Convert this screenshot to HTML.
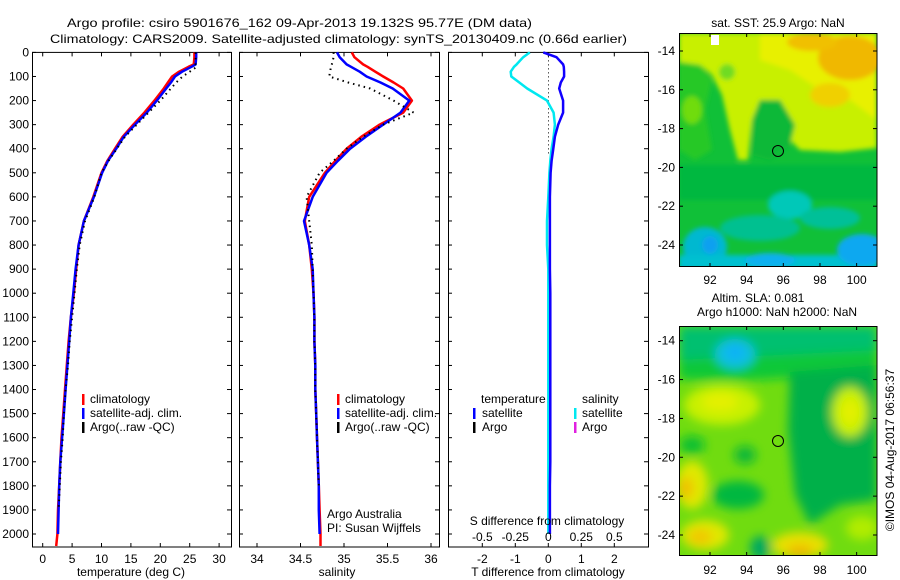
<!DOCTYPE html>
<html><head><meta charset="utf-8"><style>
html,body{margin:0;padding:0;background:#fff;}
svg{display:block;font-family:"Liberation Sans",Arial,sans-serif;}
text{font-size:12px;fill:#000;}
</style></head><body>
<svg id="fig" width="900" height="580" viewBox="0 0 900 580" xmlns="http://www.w3.org/2000/svg">
<defs>
<filter id="blur1" x="-20%" y="-20%" width="140%" height="140%"><feGaussianBlur stdDeviation="2.5"/></filter>
<filter id="blur2" x="-20%" y="-20%" width="140%" height="140%"><feGaussianBlur stdDeviation="5"/></filter>
<clipPath id="clipM1"><rect x="679" y="33" width="198" height="234"/></clipPath>
<clipPath id="clipM2"><rect x="679" y="326" width="198" height="230"/></clipPath>
</defs>
<text x="67" y="27" textLength="465" lengthAdjust="spacingAndGlyphs" font-size="13">Argo profile: csiro 5901676_162 09-Apr-2013 19.132S 95.77E (DM data)</text>
<text x="50" y="43" textLength="577" lengthAdjust="spacingAndGlyphs" font-size="13">Climatology: CARS2009. Satellite-adjusted climatology: synTS_20130409.nc (0.66d earlier)</text>

<g id="map1">
 <g clip-path="url(#clipM1)">
  <rect x="679" y="33" width="198" height="234" fill="#10c038"/>
  <g filter="url(#blur1)">
   <polygon points="679,33 877,33 877,148 840,152 800,150 790,140 795,125 780,100 760,100 752,120 748,160 738,160 730,130 722,95 712,75 700,65 679,62" fill="#c8f000"/>
   <polygon points="760,33 877,33 877,120 850,100 820,90 790,70 760,60" fill="#e8f000"/>
   <ellipse cx="850" cy="58" rx="32" ry="22" fill="#f0b800"/>
   <ellipse cx="812" cy="42" rx="25" ry="9" fill="#f0c000"/>
   <ellipse cx="830" cy="95" rx="20" ry="12" fill="#f0d000"/>
   <polygon points="679,62 700,65 712,80 705,110 712,150 695,160 679,150" fill="#28c828"/>
   <ellipse cx="692" cy="110" rx="10" ry="14" fill="#70dc10"/>
   <polygon points="760,100 780,100 795,125 790,145 770,160 752,155 752,120" fill="#10b838"/>
   <ellipse cx="727" cy="72" rx="8" ry="8" fill="#70dc20"/>
   <rect x="679" y="165" width="198" height="35" fill="#00b840"/>
   <ellipse cx="790" cy="205" rx="22" ry="14" fill="#00c8b8"/>
   <ellipse cx="760" cy="228" rx="40" ry="13" fill="#00c090"/>
   <ellipse cx="830" cy="218" rx="30" ry="11" fill="#00c098"/>
   <ellipse cx="705" cy="247" rx="22" ry="20" fill="#00b8d0"/>
   <ellipse cx="710" cy="245" rx="8" ry="9" fill="#10a0f0"/>
   <rect x="679" y="255" width="198" height="15" fill="#00c0d0"/>
   <ellipse cx="862" cy="250" rx="25" ry="16" fill="#10a8f0"/>
   <ellipse cx="770" cy="260" rx="25" ry="7" fill="#10b0f0"/>
  </g>
  <rect x="711" y="35" width="8" height="10" fill="#fff"/>
 </g>
 <rect x="679.5" y="33.5" width="197.5" height="233" fill="none" stroke="#000" stroke-width="1"/>
 <circle cx="778" cy="151" r="5.5" fill="none" stroke="#000" stroke-width="1"/>
 <text x="778" y="27" text-anchor="middle">sat. SST: 25.9 Argo: NaN</text>
 <g id="map1ticks"></g>
</g>

<g id="map2">
 <g clip-path="url(#clipM2)">
  <rect x="679" y="326" width="198" height="230" fill="#70dc10"/>
  <g filter="url(#blur2)">
   <rect x="679" y="326" width="198" height="48" fill="#00c070"/>
   <polygon points="679,360 877,350 877,372 760,380 679,380" fill="#10c838"/>
   <ellipse cx="735" cy="354" rx="20" ry="15" fill="#10c0e0"/>
   <ellipse cx="735" cy="352" rx="9" ry="7" fill="#10b0f8"/>
   <polygon points="790,372 877,365 877,500 840,505 810,525 795,495 788,430" fill="#00b048"/>
   <ellipse cx="722" cy="405" rx="38" ry="20" fill="#c8f000"/>
   <ellipse cx="720" cy="402" rx="18" ry="9" fill="#e4f000"/>
   <ellipse cx="692" cy="445" rx="13" ry="9" fill="#10c030"/>
   <ellipse cx="745" cy="455" rx="11" ry="9" fill="#10b838"/>
   <ellipse cx="850" cy="412" rx="18" ry="25" fill="#c8f000"/>
   <ellipse cx="850" cy="412" rx="9" ry="13" fill="#e4f000"/>
   <ellipse cx="692" cy="485" rx="16" ry="24" fill="#e0e800"/>
   <ellipse cx="686" cy="488" rx="7" ry="11" fill="#f0c000"/>
   <ellipse cx="738" cy="495" rx="26" ry="14" fill="#00b840"/>
   <ellipse cx="705" cy="535" rx="24" ry="15" fill="#e0e800"/>
   <ellipse cx="700" cy="537" rx="12" ry="8" fill="#f0c800"/>
   <ellipse cx="800" cy="545" rx="28" ry="13" fill="#e8e000"/>
   <ellipse cx="800" cy="551" rx="13" ry="6" fill="#f0b800"/>
   <ellipse cx="760" cy="548" rx="10" ry="12" fill="#00a860"/>
   <ellipse cx="862" cy="528" rx="16" ry="12" fill="#b0ec00"/>
  </g>
 </g>
 <rect x="679.5" y="326.5" width="197.5" height="229" fill="none" stroke="#000" stroke-width="1"/>
 <circle cx="778" cy="441" r="5.5" fill="none" stroke="#000" stroke-width="1"/>
 <text x="758" y="302" text-anchor="middle">Altim. SLA: 0.081</text>
 <text x="777" y="316" text-anchor="middle">Argo h1000: NaN h2000: NaN</text>
 <text transform="translate(894,450) rotate(-90)" text-anchor="middle">©IMOS 04-Aug-2017 06:56:37</text>
 <g id="map2ticks"></g>
</g>

<g id="panels"></g>
</svg>
<script>
// ---- data ----
const depths   = [0,20,50,60,80,100,125,150,200,250,300,350,400,450,500,600,700,800,900,1000,1100,1200,1300,1400,1500,1600,1700,1800,1900,2000,2050];
const tempClim = [25.8,25.8,25.7,24.8,23.2,22.0,21.3,20.6,19.0,17.3,15.4,13.6,12.3,11.0,10.0,8.6,7.0,6.1,5.7,5.3,4.8,4.4,4.1,3.8,3.5,3.2,3.0,2.8,2.6,2.5,2.3];
const tempSat  = [26.1,26.1,26.0,25.3,23.7,22.5,21.8,21.0,19.4,17.7,15.7,13.8,12.5,11.1,10.1,8.7,7.0,6.1,5.6,5.2,4.8,4.5,4.2,3.9,3.6,3.3,3.0,2.8,2.7,2.6,NaN];
const tempArgo = [26.0,26.0,26.0,26.2,25.0,23.8,22.7,21.8,20.0,18.0,16.0,14.0,12.6,11.2,10.0,8.8,7.2,6.3,5.8,5.4,5.0,4.6,4.3,3.9,3.6,3.4,3.1,2.9,2.7,NaN,NaN];
const salClim  = [35.09,35.12,35.22,35.27,35.36,35.45,35.57,35.68,35.78,35.68,35.41,35.2,35.03,34.9,34.78,34.6,34.55,34.6,34.63,34.65,34.66,34.66,34.67,34.67,34.68,34.69,34.7,34.71,34.72,34.73,34.73];
const salSat   = [34.92,34.95,35.03,35.08,35.18,35.26,35.42,35.56,35.75,35.65,35.45,35.25,35.07,34.93,34.8,34.64,34.54,34.6,34.64,34.65,34.66,34.66,34.67,34.67,34.68,34.69,34.7,34.71,34.71,34.72,NaN];
const salArgo  = [34.88,34.88,34.86,34.85,34.84,34.83,35.05,35.3,35.57,35.8,35.45,35.22,35.03,34.88,34.72,34.57,34.6,34.63,34.64,34.65,34.66,34.66,34.67,34.67,34.68,34.69,34.7,34.71,NaN,NaN,NaN];
const tDiffSat = [-0.15,0.25,0.45,0.47,0.48,0.48,0.38,0.33,0.45,0.45,0.3,0.2,0.15,0.1,0.07,0.05,0.05,0.05,0.05,0.06,0.06,0.06,0.06,0.06,0.06,0.06,0.06,0.05,0.05,0.05,NaN];
const sDiffSat = [-0.14,-0.19,-0.24,-0.26,-0.285,-0.28,-0.22,-0.16,-0.01,0.04,0.05,0.04,0.025,0.015,0.008,0,-0.01,-0.01,0,0,0,0,0,0,0,0,0,0,0,0,NaN];
const depthTicks = [0,100,200,300,400,500,600,700,800,900,1000,1100,1200,1300,1400,1500,1600,1700,1800,1900,2000];
const tempTicks = [0,5,10,15,20,25,30];
const salTicks = [34,34.5,35,35.5,36];
const tDiffTicks = [-2,-1,0,1,2];
const sDiffTicks = [-0.5,-0.25,0,0.25,0.5];
const lonTicks = [92,94,96,98,100];
const latTicks = [-14,-16,-18,-20,-22,-24];

const NS = 'http://www.w3.org/2000/svg';
const P = document.getElementById('panels');
function mk(tag, attrs, parent){ const e=document.createElementNS(NS,tag); for(const k in attrs) e.setAttribute(k,attrs[k]); (parent||P).appendChild(e); return e; }

const TOP=52.4, BOT=547;
const yD = d => TOP + d*0.2408;
const xT = v => 42.7 + v*5.88;
const xS = v => 257 + (v-34)*87;
const xTd = v => 548.3 + v*33;
const xSd = v => 548.3 + v*132;

function frame(x0,x1,name){
  const r = mk('rect',{x:x0+0.5,y:TOP,width:x1-x0,height:BOT-TOP,fill:'none',stroke:'#000','stroke-width':1});
  
  
}
function line(xf, vals, color, dash, name, w){
  let pts=[];
  const segs=[];
  for(let i=0;i<depths.length;i++){
    if(isNaN(vals[i])){ if(pts.length) segs.push(pts); pts=[]; continue; }
    pts.push(xf(vals[i]).toFixed(1)+','+yD(depths[i]).toFixed(1));
  }
  if(pts.length) segs.push(pts);
  segs.forEach(s=>{
    const a={points:s.join(' '),fill:'none',stroke:color,'stroke-width':w||2.5,'stroke-linejoin':'round'};
    if(dash) a['stroke-dasharray']=dash;
    const e=mk('polyline',a);
    
    
  });
}
function txt(x,y,s,anchor,name){
  const t=mk('text',{x:x,y:y,'text-anchor':anchor||'start'}); t.textContent=s;
  
  
  return t;
}
function depthTickMarks(x0,x1,labels){
  depthTicks.forEach(d=>{
    const y=yD(d);
    mk('line',{x1:x0,y1:y,x2:x0+4,y2:y,stroke:'#000'});
    mk('line',{x1:x1,y1:y,x2:x1-4,y2:y,stroke:'#000'});
    if(labels) txt(29,y+4,String(d),'end','depth-tick-label');
  });
}
function xTickMarks(xf,ticks,x0,x1,labels,name){
  ticks.forEach(v=>{
    const x=xf(v);
    mk('line',{x1:x,y1:BOT,x2:x,y2:BOT-4,stroke:'#000'});
    mk('line',{x1:x,y1:TOP,x2:x,y2:TOP+4,stroke:'#000'});
    if(labels) txt(x,563,String(v),'middle',name);
  });
}
function legBar(x,y,color){ const e=mk('rect',{x:x,y:y-9,width:2.5,height:11,fill:color});   }

// Temperature panel
frame(32,231,'temperature-panel');
depthTickMarks(32,231,true);
xTickMarks(xT,tempTicks,32,231,true,'temperature-tick-label');
line(xT,tempClim,'#f00',null,'temperature-climatology-line');
line(xT,tempSat,'#00f',null,'temperature-satellite-line');
line(xT,tempArgo,'#000','1.5 4','temperature-argo-line',2);
txt(131,576,'temperature (deg C)','middle','temperature-axis-title');
legBar(82,403,'#f00'); txt(90,403,'climatology','start','legend-climatology');
legBar(82,417,'#00f'); txt(90,417,'satellite-adj. clim.','start','legend-satellite');
legBar(82,431,'#000'); txt(90,431,'Argo(..raw -QC)','start','legend-argo');

// Salinity panel
frame(239,439,'salinity-panel');
depthTickMarks(239,439,false);
xTickMarks(xS,salTicks,239,439,true,'salinity-tick-label');
line(xS,salClim,'#f00',null,'salinity-climatology-line');
line(xS,salSat,'#00f',null,'salinity-satellite-line');
line(xS,salArgo,'#000','1.5 4','salinity-argo-line',2);
txt(337,576,'salinity','middle','salinity-axis-title');
legBar(337,403,'#f00'); txt(345,403,'climatology','start','sal-legend-climatology');
legBar(337,417,'#00f'); txt(345,417,'satellite-adj. clim.','start','sal-legend-satellite');
legBar(337,431,'#000'); txt(345,431,'Argo(..raw -QC)','start','sal-legend-argo');
txt(327,518,'Argo Australia','start','institution-label');
txt(327,532,'PI: Susan Wijffels','start','pi-label');

// Difference panel
frame(448,648,'difference-panel');
depthTickMarks(448,648,false);
xTickMarks(xTd,tDiffTicks,448,648,true,'t-diff-tick-label');
mk('line',{x1:548.5,y1:TOP,x2:548.5,y2:yD(420),stroke:'#000','stroke-width':1,'stroke-dasharray':'1 3'});
line(xSd,sDiffSat,'#00e8f0',null,'salinity-diff-satellite-line');
line(xTd,tDiffSat,'#10f',null,'temperature-diff-satellite-line');
txt(548,576,'T difference from climatology','middle','t-diff-axis-title');
txt(547,525,'S difference from climatology','middle','s-diff-axis-title');
sDiffTicks.forEach(v=>txt(xSd(v),541,String(v),'middle','s-diff-tick-label'));
txt(481,403,'temperature','start','legend-temperature-header');
legBar(473,417,'#00f'); txt(482,417,'satellite','start','legend-t-satellite');
legBar(473,431,'#000'); txt(482,431,'Argo','start','legend-t-argo');
txt(582,403,'salinity','start','legend-salinity-header');
legBar(574,417,'#00e8f0'); txt(582,417,'satellite','start','legend-s-satellite');
legBar(574,431,'#e020e0'); txt(582,431,'Argo','start','legend-s-argo');

// Map ticks
function mapTicks(gid,top,bot,lat14,lat24,labY){
  const g=document.getElementById(gid);
  const xL = lon => 710 + (lon-92)*18.33;
  const yL = lat => lat14 + (lat+14)*(lat24-lat14)/(-10);
  lonTicks.forEach(v=>{
    const x=xL(v);
    mk('line',{x1:x,y1:bot,x2:x,y2:bot-4,stroke:'#000'},g);
    mk('line',{x1:x,y1:top,x2:x,y2:top+4,stroke:'#000'},g);
    const t=mk('text',{x:x,y:labY,'text-anchor':'middle'},g); t.textContent=String(v);
    
    
  });
  latTicks.forEach(v=>{
    const y=yL(v);
    mk('line',{x1:679,y1:y,x2:683,y2:y,stroke:'#000'},g);
    mk('line',{x1:877,y1:y,x2:873,y2:y,stroke:'#000'},g);
    const t=mk('text',{x:675,y:y+4,'text-anchor':'end'},g); t.textContent=String(v);
    
    
  });
}
mapTicks('map1ticks',33,267,51,245,284);
mapTicks('map2ticks',326,556,340.7,535,574);
</script>
</body></html>
